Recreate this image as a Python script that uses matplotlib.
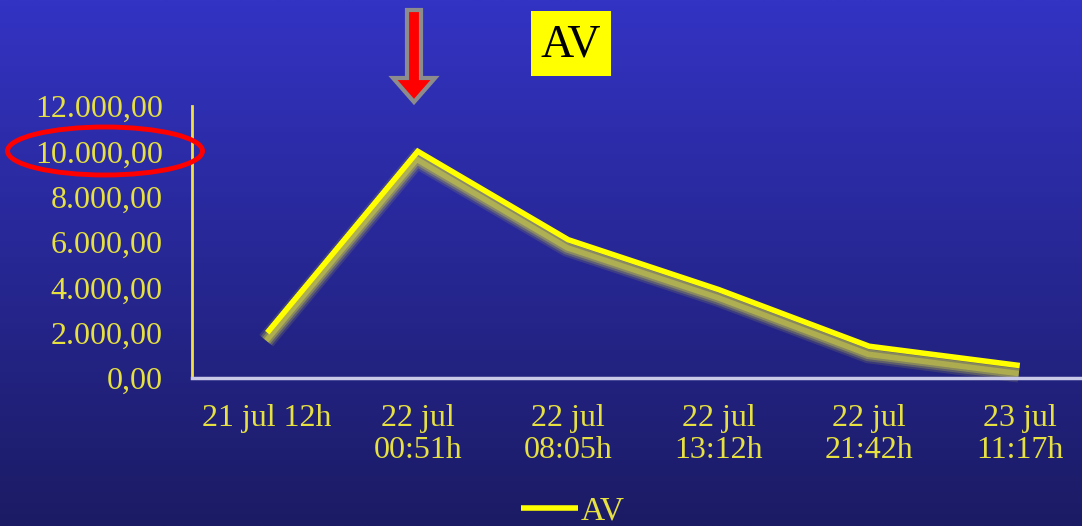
import numpy as np
import matplotlib
matplotlib.use("Agg")
import matplotlib.pyplot as plt
import matplotlib.transforms as mtransforms
from matplotlib.patches import Ellipse, FancyArrow, Rectangle

# data
labels = ["21 jul 12h", "22 jul\n00:51h", "22 jul\n08:05h", "22 jul\n13:12h", "22 jul\n21:42h", "23 jul\n11:17h"]
av_values = [2000, 10000, 6100, 3900, 1400, 550]
y_ticks = [0, 2000, 4000, 6000, 8000, 10000, 12000]
y_ticklabels = ["0,00", "2.000,00", "4.000,00", "6.000,00", "8.000,00", "10.000,00", "12.000,00"]

W, H = 1082, 526
fig = plt.figure(figsize=(W / 100, H / 100), dpi=100)

# gradient background
bg = fig.add_axes([0, 0, 1, 1])
top = np.array([51, 51, 196]) / 255
bottom = np.array([27, 27, 100]) / 255
t = np.linspace(0, 1, 256)[:, None]
grad = top * (1 - t) + bottom * t
bg.imshow(grad[:, None, :].repeat(2, axis=1), aspect="auto", extent=[0, 1, 0, 1])
bg.axis("off")

serif = ["Liberation Serif", "DejaVu Serif"]
ycol = "#e6e040"

# main axes: x from 192px to ~1095px, y from 106px to 378px
x0, x1 = 192, 1095
y_top, y_bot = 106, 378
ax = fig.add_axes([x0 / W, 1 - y_bot / H, (x1 - x0) / W, (y_bot - y_top) / H])
ax.patch.set_alpha(0)

x = np.arange(len(labels))
# blurry olive shadow under the line
shadow = mtransforms.offset_copy(ax.transData, fig=fig, x=-1, y=-8, units="dots")
for lw, a in [(13, 0.15), (10, 0.25), (7, 0.4), (4, 0.6)]:
    ax.plot(x, av_values, color="#c8c848", linewidth=lw, alpha=a, transform=shadow,
            solid_capstyle="butt", solid_joinstyle="miter", clip_on=False)
ax.plot(x, av_values, color="#ffff00", linewidth=4, solid_joinstyle="miter",
        solid_capstyle="butt", label="AV", clip_on=False)

ax.set_xlim(-0.5, len(labels) - 0.5)
ax.set_ylim(0, 12000)
ax.set_yticks(y_ticks)
ax.set_yticklabels(y_ticklabels, family=serif, fontsize=23, color=ycol)
ax.set_xticks(x)
ax.set_xticklabels(labels, family=serif, fontsize=23, color=ycol, linespacing=1.1)
ax.tick_params(axis="both", length=0)
ax.tick_params(axis="y", pad=21)
ax.tick_params(axis="x", pad=19)
for s in ["top", "right"]:
    ax.spines[s].set_visible(False)
ax.spines["left"].set_color("#f0e040")
ax.spines["left"].set_linewidth(2)
ax.spines["bottom"].set_color("#c8c8e8")
ax.spines["bottom"].set_linewidth(2.5)

leg = ax.legend(loc="center", bbox_to_anchor=((573 - x0) / (x1 - x0), -(511 - y_bot) / (y_bot - y_top)),
                frameon=False, handlelength=1.7, handletextpad=0.1, borderpad=0,
                prop={"family": serif, "size": 24})
for txt in leg.get_texts():
    txt.set_color(ycol)

# overlay for annotations in pixel coords
ov = fig.add_axes([0, 0, 1, 1])
ov.set_xlim(0, W)
ov.set_ylim(H, 0)
ov.axis("off")
ov.patch.set_alpha(0)

ov.add_patch(Rectangle((531, 11), 80, 65, facecolor="#ffff00", edgecolor="none"))
ov.text(571, 45, "AV", ha="center", va="center", fontsize=33, color="black", family=serif)

ov.add_patch(FancyArrow(414, 10, 0, 92, width=14, head_width=42, head_length=24,
                        length_includes_head=True, facecolor="#ff0000", edgecolor="#8c8c8c", linewidth=3))

ov.add_patch(Ellipse((105, 151), 195, 48, fill=False, edgecolor="#ff0000", linewidth=3.5))

fig.savefig("out.png", dpi=100)
